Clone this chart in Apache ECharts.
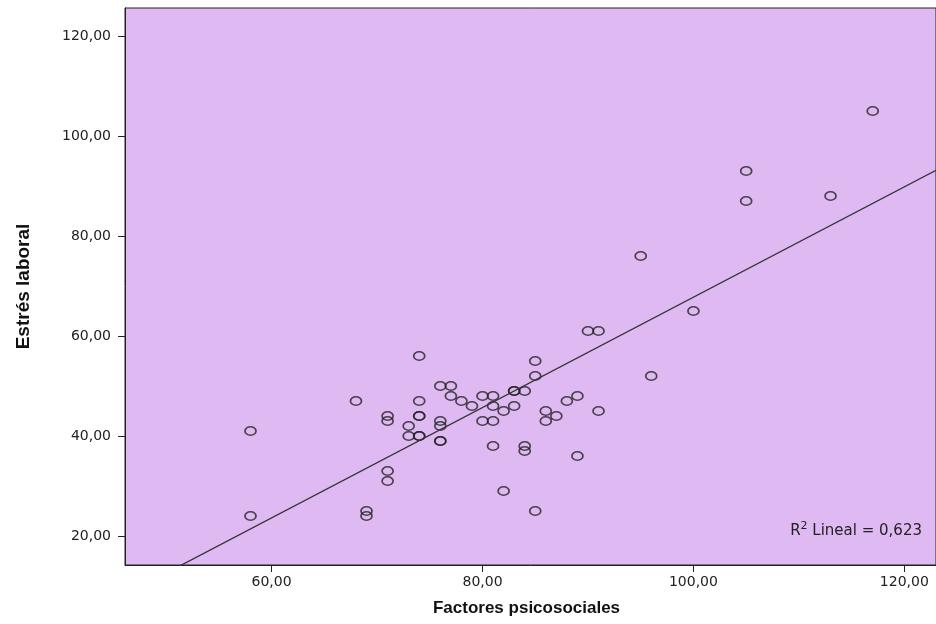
<!DOCTYPE html>
<html>
<head>
<meta charset="UTF-8">
<title>Estrés laboral vs Factores psicosociales</title>
<script src="https://cdn.jsdelivr.net/npm/echarts@6/dist/echarts.min.js"></script>
<style>
  html, body { margin: 0; padding: 0; background: #fff; }
  #chart { width: 936px; height: 624px; }
</style>
</head>
<body>
<div id="chart"></div>
<script>
// datos
var factores = [58, 58, 68, 69, 69, 71, 71, 71, 71, 73, 73, 74, 74, 74, 74, 74, 74,
  76, 76, 76, 76, 76, 77, 77, 78, 79, 80, 80, 81, 81, 81, 81, 82, 82, 83, 83, 83,
  84, 84, 84, 85, 85, 85, 86, 86, 87, 88, 89, 89, 90, 91, 91, 95, 96, 100, 105, 105, 113, 117];
var estres = [41, 24, 47, 25, 24, 44, 43, 33, 31, 42, 40, 56, 47, 44, 44, 40, 40,
  50, 43, 42, 39, 39, 50, 48, 47, 46, 48, 43, 48, 46, 43, 38, 45, 29, 49, 49, 46,
  49, 38, 37, 55, 52, 25, 45, 43, 44, 47, 48, 36, 61, 61, 45, 76, 52, 65, 93, 87, 88, 105];
var xTicks = [60, 80, 100, 120];
var yTicks = [20, 40, 60, 80, 100, 120];
var xRange = [46.1, 123.0];
var yRange = [14.2, 125.6];

var chart = echarts.init(document.getElementById('chart'));

// ajuste lineal
var n = factores.length, sx = 0, sy = 0, sxx = 0, sxy = 0;
for (var i = 0; i < n; i++) {
  sx += factores[i]; sy += estres[i];
  sxx += factores[i] * factores[i]; sxy += factores[i] * estres[i];
}
var b = (n * sxy - sx * sy) / (n * sxx - sx * sx);
var a = (sy - b * sx) / n;
var fitLine = [[xRange[0], a + b * xRange[0]], [xRange[1], a + b * xRange[1]]];

var pts = factores.map(function (x, i) { return [x, estres[i]]; });

function fmt(v) { return v.toFixed(2).replace('.', ','); }

var labelStyle = { color: '#222', fontFamily: 'DejaVu Sans, Liberation Sans, sans-serif', fontSize: 14 };

chart.setOption({
  animation: false,
  grid: {
    left: 125, top: 8, right: -3, bottom: 59,
    show: true, backgroundColor: '#dfb9f1', borderColor: '#222', borderWidth: 1
  },
  xAxis: {
    type: 'value', min: xRange[0], max: xRange[1],
    name: 'Factores psicosociales', nameLocation: 'middle', nameGap: 35,
    nameTextStyle: { fontFamily: 'Liberation Sans, Arial, sans-serif', fontWeight: 'bold', fontSize: 17, color: '#111', padding: [0, 0, 0, -8] },
    axisLine: { show: true, lineStyle: { color: '#222' } },
    axisTick: { show: true, length: 7, customValues: xTicks, lineStyle: { color: '#222' } },
    axisLabel: Object.assign({ customValues: xTicks, formatter: fmt, margin: 10 }, labelStyle),
    splitLine: { show: false }
  },
  yAxis: {
    type: 'value', min: yRange[0], max: yRange[1],
    name: 'Estrés laboral', nameLocation: 'middle', nameGap: 92, nameRotate: 90,
    nameTextStyle: { fontFamily: 'Liberation Sans, Arial, sans-serif', fontWeight: 'bold', fontSize: 19, color: '#111' },
    axisLine: { show: true, lineStyle: { color: '#222' } },
    axisTick: { show: true, length: 7, customValues: yTicks, lineStyle: { color: '#222' } },
    axisLabel: Object.assign({ customValues: yTicks, formatter: fmt, margin: 14 }, labelStyle),
    splitLine: { show: false }
  },
  series: [
    {
      type: 'line', data: fitLine, symbol: 'none', clip: true, silent: true,
      lineStyle: { color: '#333', width: 1.3 }
    },
    {
      type: 'scatter', data: pts, symbol: 'circle', symbolSize: [11, 8.5],
      itemStyle: { color: 'rgba(0,0,0,0)', borderColor: '#222', borderWidth: 1.5 }
    }
  ],
  graphic: [{
    type: 'text', right: 14, top: 521,
    style: {
      text: '{r|R}{s|2}{r| Lineal = 0,623}',
      rich: {
        r: { fontFamily: 'DejaVu Sans, Liberation Sans, sans-serif', fontSize: 15, fill: '#222', verticalAlign: 'bottom' },
        s: { fontFamily: 'DejaVu Sans, Liberation Sans, sans-serif', fontSize: 11, fill: '#222', verticalAlign: 'top', padding: [0, 0, 7, 0] }
      }
    }
  }]
});
</script>
</body>
</html>
